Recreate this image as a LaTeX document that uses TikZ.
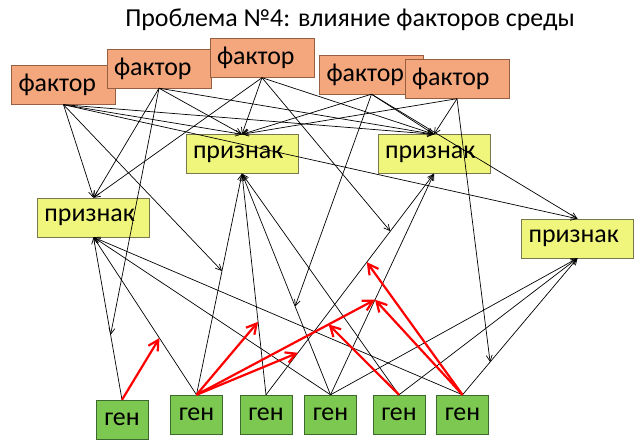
\documentclass[tikz,border=0pt]{standalone}
\usepackage{fontspec}
\setmainfont{Carlito}
\usetikzlibrary{arrows.meta,calc}
\definecolor{factorfill}{RGB}{244,166,124}
\definecolor{factorline}{RGB}{150,95,65}
\definecolor{signfill}{RGB}{240,246,124}
\definecolor{signline}{RGB}{120,120,80}
\definecolor{genefill}{RGB}{124,200,80}
\definecolor{geneline}{RGB}{60,105,45}

\begin{document}
\begin{tikzpicture}[x=1bp, y=-1bp,
  box/.style={minimum height=39bp, inner ysep=2bp, font=\fontsize{26}{30}\selectfont},
  factor/.style={box, draw=factorline, fill=factorfill, text width=90bp, inner xsep=7bp, align=left},
  sign/.style={box, draw=signline, fill=signfill, text width=98bp, inner xsep=7bp, align=left},
  gene/.style={box, draw=geneline, fill=genefill, minimum width=52bp, inner xsep=0pt},
  link/.style={-{Straight Barb[length=6bp,width=6bp]}, line width=0.7bp},
  hit/.style={-{Straight Barb[length=10bp,width=11bp]}, red, line width=2.2bp}]
  \useasboundingbox (0,0) rectangle (640,447);

  % Title
  \node (title) at (350,20) {\fontsize{26}{30}\selectfont Проблема №4: влияние факторов среды};

  % Factors
  \foreach \n/\x/\y in {f1/63.5/85, f2/159/68.5, f3/262/58, f4/371.5/74.5, f5/457/79}
    \node[factor] (\n) at (\x,\y) {фактор};

  % Signs
  \foreach \n/\x/\y in {s1/93.5/217.5, s2/242/154, s3/434/154, s4/577.5/238.5}
    \node[sign] (\n) at (\x,\y) {признак};

  % Genes
  \foreach \n/\x/\y in {g1/122/419.5, g2/196.5/414.5, g3/266/414.5,
                        g4/330.5/414.5, g5/399/414.5, g6/462.5/414.5}
    \node[gene] (\n) at (\x,\y) {ген};

  % Genes -> signs
  \foreach \a/\b in {g1/s1, g2/s1, g4/s1, g6/s1, g2/s2, g3/s2, g4/s2, g5/s2,
                     g3/s3, g4/s3, g4/s4, g5/s4, g6/s4}
    \draw[link] (\a.north) -- (\b.south);

  % Factors -> signs
  \foreach \a/\b in {f1/s1, f1/s2, f1/s3, f1/s4, f2/s1, f2/s2, f2/s3,
                     f3/s1, f3/s2, f3/s3, f4/s2, f4/s3, f4/s4, f5/s2, f5/s3}
    \draw[link] (\a.south) -- (\b.north);

  % Factors -> gene links
  \coordinate (e1) at ($(g2.north)!0.56!(s2.south)$);
  \coordinate (e2) at ($(g1.north)!0.40!(s1.south)$);
  \coordinate (e3) at ($(g3.north)!0.74!(s3.south)$);
  \coordinate (e4) at ($(g4.north)!0.40!(s2.south)$);
  \coordinate (e5) at ($(g6.north)!0.24!(s4.south)$);
  \foreach \a/\b in {f1/e1, f2/e2, f3/e3, f4/e4, f5/e5}
    \draw[link] (\a.south) -- (\b);

  % Gene -> gene interactions
  \coordinate (r1) at ($(g2.north)!0.36!(s1.south)$);
  \coordinate (r2) at ($(g3.north)!0.33!(s2.south)$);
  \coordinate (r3) at ($(g3.north)!0.19!(s3.south)$);
  \coordinate (r4) at ($(g4.north)!0.43!(s3.south)$);
  \coordinate (r5) at ($(g3.north)!0.60!(s3.south)$);
  \coordinate (r6) at ($(g2.north)!0.74!(r4)$);
  \foreach \a/\b in {g1/r1, g2/r2, g2/r3, g2/r4, g6/r4, g6/r5}
    \draw[hit] (\a.north) -- (\b);
  \draw[hit] (g5.north) -- (r6);
\end{tikzpicture}
\end{document}
